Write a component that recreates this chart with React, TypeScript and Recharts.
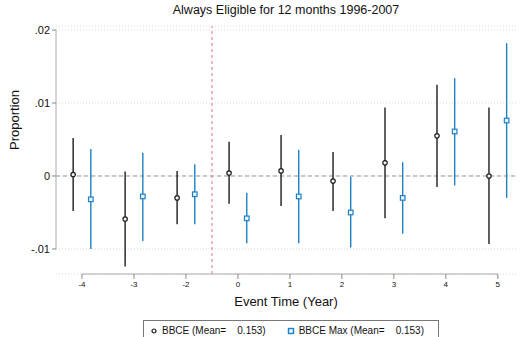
import { CartesianGrid, ComposedChart, ErrorBar, ReferenceLine, Scatter, XAxis, YAxis } from "recharts";

const eventLabels = ["-4", "-3", "-2", "0", "1", "2", "3", "4", "5"];
const bbcePoint = [0.0002, -0.0059, -0.003, 0.0004, 0.0007, -0.0007, 0.0018, 0.0055, 0.0];
const bbceLow = [-0.0048, -0.0124, -0.0066, -0.0038, -0.0041, -0.0048, -0.0058, -0.0015, -0.0093];
const bbceHigh = [0.0052, 0.0006, 0.0007, 0.0047, 0.0056, 0.0033, 0.0094, 0.0125, 0.0094];
const maxPoint = [-0.0032, -0.0028, -0.0025, -0.0058, -0.0028, -0.005, -0.003, 0.0061, 0.0076];
const maxLow = [-0.01, -0.0089, -0.0066, -0.0092, -0.0092, -0.0098, -0.0079, -0.0013, -0.003];
const maxHigh = [0.0037, 0.0032, 0.0016, -0.0023, 0.0036, -0.0001, 0.0019, 0.0134, 0.0182];
const yTicks = [-0.01, 0, 0.01, 0.02];
const yTickLabels = ["-.01", "0", ".01", ".02"];

const FONT = "'Liberation Sans', Arial, sans-serif";
const BLACK = "#1c1c1c";
const BLUE = "#1f80c4";
const SHIFT = 0.17;

const build = (pt: number[], lo: number[], hi: number[], off: number) =>
  pt.map((y, i) => ({ x: i + off, y, err: [y - lo[i], hi[i] - y] }));

const bbceData = build(bbcePoint, bbceLow, bbceHigh, -SHIFT);
const maxData = build(maxPoint, maxLow, maxHigh, SHIFT);

const Circle = (p: any) => (
  <circle cx={p.cx} cy={p.cy} r={2.2} fill="#f4f4f4" stroke={BLACK} strokeWidth={1.2} />
);
const Square = (p: any) => (
  <rect x={p.cx - 2.3} y={p.cy - 2.3} width={4.6} height={4.6} fill="#e8f2fa" stroke={BLUE} strokeWidth={1.2} />
);

export default function App() {
  return (
    <div style={{ position: "fixed", left: 0, top: 0, width: 522, height: 337, background: "#fff", fontFamily: FONT }}>
      <div style={{ position: "absolute", left: 56, width: 460, top: 3, textAlign: "center", fontSize: 12.5, color: "#111" }}>
        Always Eligible for 12 months 1996-2007
      </div>
      <ComposedChart width={522} height={337} margin={{ top: 26, right: 6, bottom: 0, left: 0 }}>
        <CartesianGrid vertical={false} stroke="#d8d8d8" strokeDasharray="1 2" />
        <XAxis
          type="number"
          dataKey="x"
          domain={[-0.5, 8.35]}
          ticks={[0, 1, 2, 3, 4, 5, 6, 7, 8]}
          tickFormatter={(v: number) => eventLabels[v]}
          axisLine={false}
          tickLine={{ stroke: "#888" }}
          tickSize={5}
          tick={{ fontSize: 8, fill: "#111", stroke: "none", fontFamily: FONT }}
          height={63}
          label={{ value: "Event Time (Year)", position: "insideTop", offset: 23, fontSize: 13, fill: "#111", fontFamily: FONT }}
          allowDataOverflow
        />
        <YAxis
          type="number"
          domain={[-0.013425, 0.020548]}
          ticks={yTicks}
          tickFormatter={(v: number) => yTickLabels[yTicks.indexOf(v)]}
          axisLine={false}
          tickLine={{ stroke: "#888" }}
          tickSize={4}
          tick={{ fontSize: 11, fill: "#111", stroke: "none", fontFamily: FONT }}
          width={56}
          label={{ value: "Proportion", angle: -90, position: "insideLeft", offset: 14, dy: 0, fontSize: 13, fill: "#111", fontFamily: FONT }}
          allowDataOverflow
        />
        <ReferenceLine y={0} stroke="#999" strokeDasharray="4 3" />
        <ReferenceLine x={2.5} stroke="#e58aa8" strokeDasharray="3 3" strokeWidth={1.2} />
        <ReferenceLine segment={[{ x: -0.5, y: -0.01 }, { x: -0.5, y: 0.02 }]} stroke="#aaa" ifOverflow="visible" />
        <ReferenceLine segment={[{ x: 0, y: -0.013425 }, { x: 8, y: -0.013425 }]} stroke="#aaa" ifOverflow="visible" />
        <Scatter data={bbceData} dataKey="y" fill={BLACK} shape={Circle} isAnimationActive={false}>
          <ErrorBar dataKey="err" direction="y" width={0} stroke={BLACK} strokeWidth={1.4} />
        </Scatter>
        <Scatter data={maxData} dataKey="y" fill={BLUE} shape={Square} isAnimationActive={false}>
          <ErrorBar dataKey="err" direction="y" width={0} stroke={BLUE} strokeWidth={1.4} />
        </Scatter>
      </ComposedChart>
      <div
        style={{
          position: "absolute",
          left: 143,
          top: 320,
          width: 296,
          height: 24,
          border: "1px solid #777",
          boxSizing: "border-box",
          fontSize: 10,
          color: "#111",
          display: "flex",
          alignItems: "flex-start",
          paddingTop: 4,
          whiteSpace: "pre",
        }}
      >
        <svg width={10} height={10} style={{ marginLeft: 5, marginTop: 1 }}>
          <circle cx={5} cy={5} r={2} fill="#f4f4f4" stroke={BLACK} strokeWidth={1.2} />
        </svg>
        <span style={{ marginLeft: 3 }}>{"BBCE (Mean=    0.153)"}</span>
        <svg width={10} height={10} style={{ marginLeft: 20, marginTop: 1 }}>
          <rect x={2.5} y={2.5} width={5} height={5} fill="#e8f2fa" stroke={BLUE} strokeWidth={1.4} />
        </svg>
        <span style={{ marginLeft: 3 }}>{"BBCE Max (Mean=    0.153)"}</span>
      </div>
    </div>
  );
}
